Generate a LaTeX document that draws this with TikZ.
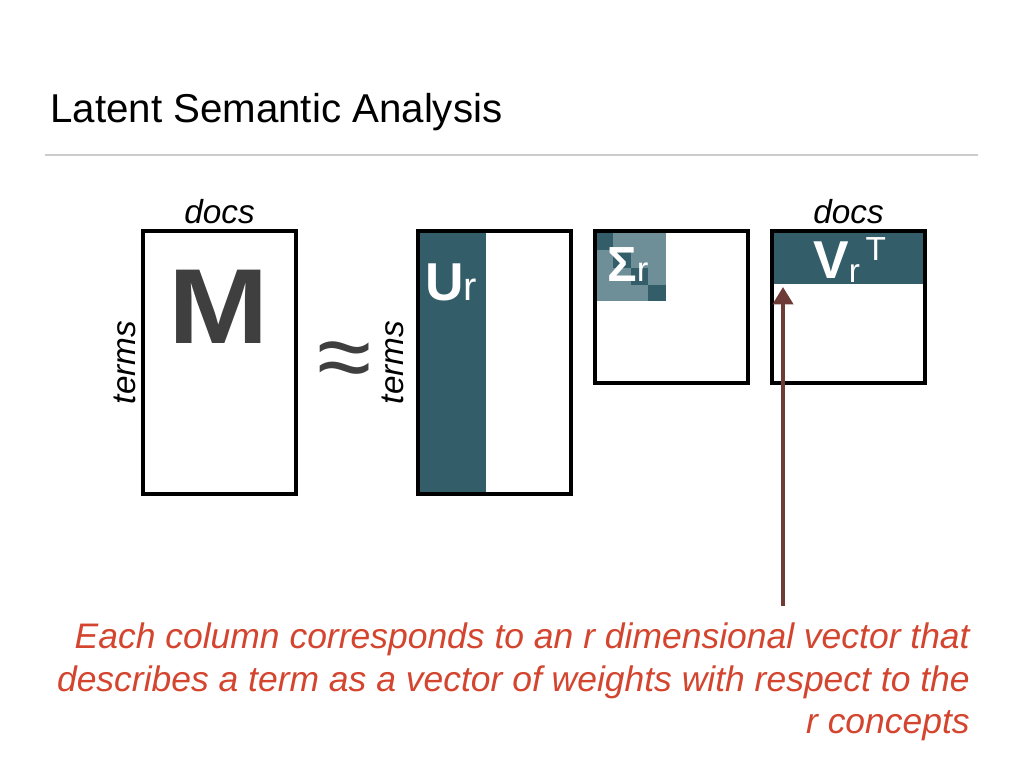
\documentclass[tikz,border=0pt]{standalone}
\usepackage{fontspec}
\setmainfont{Liberation Sans}
\usepackage{xcolor}
\usepackage{graphicx}
\usepackage{tikz}
\usetikzlibrary{arrows.meta,positioning}
\definecolor{tealdark}{HTML}{335D69}
\definecolor{teallight}{HTML}{6E8F98}
\definecolor{arrowbrown}{HTML}{6F3B36}
\definecolor{notered}{HTML}{D4452F}
\definecolor{rulegray}{HTML}{CCCCCC}
\definecolor{mgray}{HTML}{3F3F3F}

\begin{document}
\begin{tikzpicture}[
  x=0.75pt, y=-0.75pt,
  matbox/.style={draw, line width=2.3pt, inner sep=0pt, minimum width=114.75pt},
  tallbox/.style={matbox, minimum height=197.25pt},
  sqbox/.style={matbox, minimum height=114pt},
  axislbl/.style={font=\fontsize{25}{27}\selectfont\itshape, inner sep=0pt},
  whitelbl/.style={text=white, inner sep=0pt, anchor=base west},
  arr/.style={-{Triangle[width=15pt,length=13pt]}, line width=3pt, draw=arrowbrown}
]
\useasboundingbox (0,0) rectangle (1024,768);
\node[anchor=base west, inner sep=0pt, font=\fontsize{30.2}{33}\selectfont] (title) at (50,122) {Latent Semantic Analysis};
\draw[rulegray, line width=1.5pt] (45,155) -- (978,155);
\fill[tealdark] (418,231) rectangle (486,494);
\fill[teallight] (595,232) rectangle (666,301);
\fill[tealdark] (595,232) rectangle (612.75,249.75);
\fill[tealdark] (612.75,249.75) rectangle (630.5,267.5);
\fill[tealdark] (630.5,267.5) rectangle (648.25,285.25);
\fill[tealdark] (648.25,285.25) rectangle (666,301);
\fill[tealdark] (772,231) rectangle (925,284);
\node[tallbox] (Mbox) at (219.5,362.5) {};
\node[tallbox] (Ubox) at (494.5,362.5) {};
\node[sqbox] (Sbox) at (671.5,307) {};
\node[sqbox] (Vbox) at (848.5,307) {};
\node[axislbl, above=4pt of Mbox] (Mdocs) {docs};
\node[axislbl, above=4pt of Vbox] (Vdocs) {docs};
\node[axislbl, rotate=90, anchor=south] (Mterms) at ([xshift=-4pt]Mbox.west) {terms};
\node[axislbl, rotate=90, anchor=south] (Uterms) at ([xshift=-9pt]Ubox.west) {terms};
\node[text=mgray, inner sep=0pt, font=\fontsize{80}{80}\selectfont\bfseries] (Mlbl) at (219,307) {\scalebox{1.13}[1]{M}};
\node[text=mgray, inner sep=0pt, font=\fontsize{74}{74}\selectfont] (approx) at (345,366) {≈};
\node[whitelbl] (Ulbl) at (425,300) {\fontsize{40}{40}\selectfont\bfseries U\fontsize{30}{30}\selectfont\mdseries r};
\node[whitelbl] (Slbl) at (607,281) {\fontsize{37}{37}\selectfont\bfseries Σ\fontsize{26}{26}\selectfont\mdseries r};
\node[whitelbl] (Vlbl) at (813,278) {\fontsize{40}{40}\selectfont\bfseries V\fontsize{25}{25}\selectfont\mdseries\raisebox{-3pt}{r}\,\raisebox{13.5pt}{T}};
\coordinate (arrtail) at (783,606);
\coordinate (arrtip) at (783,287);
\draw[arr] (arrtail) -- (arrtip);
\node[anchor=east, align=right, inner sep=0pt, text=notered, font=\fontsize{26.6}{32}\selectfont\itshape] (note) at (970,682)
{Each column corresponds to an r dimensional vector that\\
describes a term as a vector of weights with respect to the\\
r concepts};
\end{tikzpicture}
\end{document}
